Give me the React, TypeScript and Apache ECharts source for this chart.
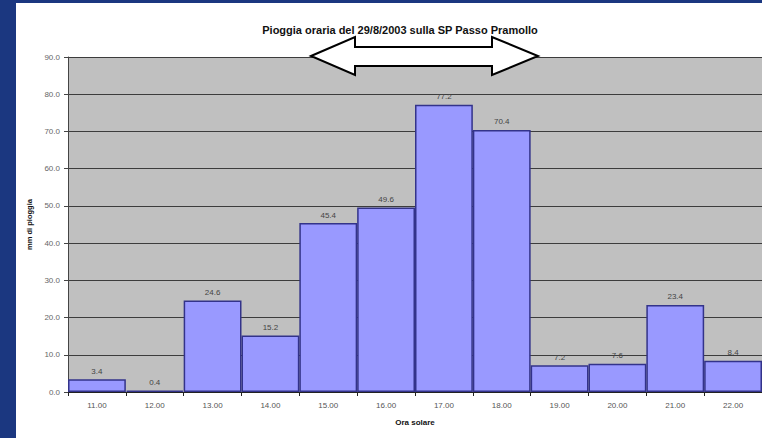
import React, { useEffect, useRef } from "react";
import * as echarts from "echarts";

const title = "Pioggia oraria del 29/8/2003 sulla SP Passo Pramollo";
const hours = ["11.00", "12.00", "13.00", "14.00", "15.00", "16.00", "17.00", "18.00", "19.00", "20.00", "21.00", "22.00"];
const rainMm = [3.4, 0.4, 24.6, 15.2, 45.4, 49.6, 77.2, 70.4, 7.2, 7.6, 23.4, 8.4];
const yAxisName = "mm di pioggia";
const xAxisName = "Ora solare";

export default function App() {
  const ref = useRef<HTMLDivElement>(null);
  useEffect(() => {
    if (!ref.current) return;
    const chart = echarts.init(ref.current, undefined, { renderer: "svg" });
    const font = "Arial, 'Liberation Sans', sans-serif";
    chart.setOption({
      animation: false,
      backgroundColor: "#1b3780",
      textStyle: { fontFamily: font },
      title: {
        text: title,
        left: 395,
        top: 19,
        textAlign: "center",
        textStyle: { fontSize: 11, fontWeight: "bold", color: "#111", fontFamily: font },
      },
      graphic: [
        {
          type: "rect",
          z: -10,
          silent: true,
          shape: { x: 16, y: 3, width: 760, height: 440 },
          style: { fill: "#ffffff" },
        },
        {
          type: "polygon",
          z: 100,
          silent: true,
          shape: {
            points: [
              [311, 56], [355, 37], [355, 47], [492, 47], [492, 37],
              [538, 56], [492, 75], [492, 66], [355, 66], [355, 75],
            ],
          },
          style: { fill: "#ffffff", stroke: "#000000", lineWidth: 2 },
        },
      ],
      grid: {
        left: 68,
        right: -3,
        top: 57,
        bottom: 46,
        show: true,
        backgroundColor: "#c0c0c0",
        borderWidth: 0,
      },
      xAxis: {
        type: "category",
        data: hours,
        name: xAxisName,
        nameLocation: "middle",
        nameGap: 26,
        nameTextStyle: { fontSize: 8, color: "#111", fontWeight: "bold" },
        axisLine: { lineStyle: { color: "#222", width: 1 } },
        axisTick: { show: true, alignWithLabel: false, length: 4, lineStyle: { color: "#222" } },
        axisLabel: { fontSize: 8, color: "#555", margin: 9 },
      },
      yAxis: {
        type: "value",
        min: 0,
        max: 90,
        interval: 10,
        name: yAxisName,
        nameLocation: "middle",
        nameGap: 32,
        nameRotate: 90,
        nameTextStyle: { fontSize: 7.5, color: "#111", fontWeight: "bold" },
        axisLine: { show: true, lineStyle: { color: "#444", width: 1 } },
        axisTick: { show: true, length: 4, lineStyle: { color: "#444" } },
        axisLabel: { fontSize: 8, color: "#666", margin: 8, formatter: (v: number) => v.toFixed(1) },
        splitLine: { show: true, lineStyle: { color: "#3c3c3c", width: 1 } },
      },
      series: [
        {
          type: "bar",
          data: rainMm,
          barCategoryGap: "0%",
          itemStyle: { color: "#9999ff", borderColor: "#33338a", borderWidth: 1.5 },
          label: {
            show: true,
            position: "top",
            distance: 4,
            fontSize: 8,
            color: "#444",
            formatter: (p: any) => Number(p.value).toFixed(1),
          },
        },
      ],
    });
    return () => chart.dispose();
  }, []);
  return (
    <div style={{ position: "fixed", left: 0, top: 0, width: 762, height: 438, overflow: "hidden" }}>
      <div ref={ref} style={{ width: 762, height: 438 }} />
    </div>
  );
}
